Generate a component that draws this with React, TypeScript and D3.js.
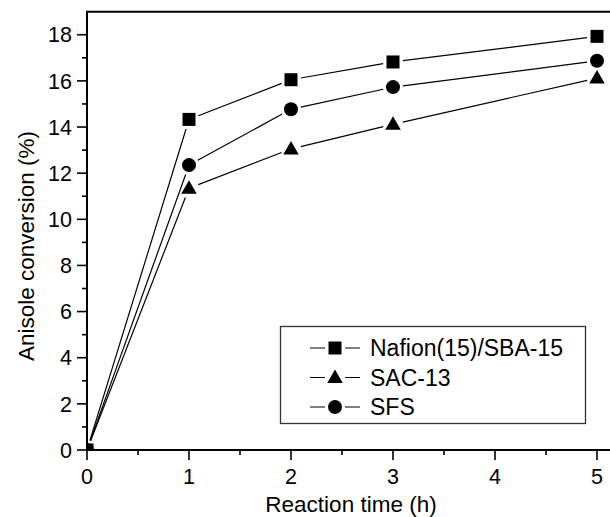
import React from "react";
import * as d3 from "d3";

const times = [0, 1, 2, 3, 5];
const seriesNames = ["Nafion(15)/SBA-15", "SAC-13", "SFS"];
const nafionValues = [0, 14.33, 16.05, 16.82, 17.93];
const sac13Values = [0, 11.35, 13.05, 14.12, 16.12];
const sfsValues = [0, 12.35, 14.77, 15.73, 16.87];
const xTickValues = [0, 1, 2, 3, 4, 5];
const yTickValues = [0, 2, 4, 6, 8, 10, 12, 14, 16, 18];

const FONT = "Liberation Sans";

type Shape = "square" | "triangle" | "circle";

function Marker({ shape, x, y }: { shape: Shape; x: number; y: number }) {
  if (shape === "square") return <rect x={x - 6.5} y={y - 6.5} width={13} height={13} fill="#000" />;
  if (shape === "circle") return <circle cx={x} cy={y} r={7} fill="#000" />;
  const sym = d3.symbol().type(d3.symbolTriangle).size(105)();
  return <path d={sym || ""} transform={`translate(${x},${y + 1})`} fill="#000" />;
}

function gapSegments(pts: [number, number][], gap: number) {
  const segs: string[] = [];
  for (let i = 0; i < pts.length - 1; i++) {
    const [x1, y1] = pts[i];
    const [x2, y2] = pts[i + 1];
    const dx = x2 - x1, dy = y2 - y1;
    const L = Math.hypot(dx, dy);
    if (L <= 2 * gap) continue;
    const ux = dx / L, uy = dy / L;
    segs.push(`M${x1 + ux * gap},${y1 + uy * gap}L${x2 - ux * gap},${y2 - uy * gap}`);
  }
  return segs.join("");
}

export default function App() {
  const W = 610, H = 517;
  const x0 = 87, y0 = 450;
  const x = d3.scaleLinear().domain([0, 5.3]).range([x0, x0 + 102 * 5.3]);
  const y = d3.scaleLinear().domain([0, 19]).range([y0, y0 - 23.07 * 19]);
  const top = y(19);
  const right = x(5.3);

  const series: { name: string; values: number[]; shape: Shape }[] = [
    { name: seriesNames[2], values: sfsValues, shape: "circle" },
    { name: seriesNames[1], values: sac13Values, shape: "triangle" },
    { name: seriesNames[0], values: nafionValues, shape: "square" },
  ];

  const xMinor = d3.range(0.5, 5.3, 1);
  const yMinor = d3.range(1, 19, 2);

  const legendItems: { name: string; shape: Shape }[] = [
    { name: seriesNames[0], shape: "square" },
    { name: seriesNames[1], shape: "triangle" },
    { name: seriesNames[2], shape: "circle" },
  ];

  const ts = { fontFamily: FONT };

  return (
    <svg width={W} height={H} style={{ position: "absolute", left: 0, top: 0, background: "#fff" }}>
      <defs>
        <clipPath id="plot">
          <rect x={x0} y={top} width={right - x0} height={y0 - top} />
        </clipPath>
      </defs>
      <g clipPath="url(#plot)">
        {series.map((s) => {
          const pts = times.map((t, i) => [x(t), y(s.values[i])] as [number, number]);
          return <path key={s.name} d={gapSegments(pts, 10)} stroke="#000" strokeWidth={1.2} fill="none" />;
        })}
        {series.map((s) => (
          <g key={s.name + "m"}>
            {times.map((t, i) => (
              <Marker key={i} shape={s.shape} x={x(t)} y={y(s.values[i])} />
            ))}
          </g>
        ))}
      </g>
      <line x1={x0} x2={right} y1={y0} y2={y0} stroke="#000" strokeWidth={2} />
      <line x1={x0} x2={x0} y1={y0} y2={top} stroke="#000" strokeWidth={2} />
      <line x1={x0 - 1} x2={right} y1={top} y2={top} stroke="#000" strokeWidth={2} />
      {xTickValues.map((t) => (
        <g key={"xt" + t}>
          <line x1={x(t)} x2={x(t)} y1={y0} y2={y0 + 10} stroke="#000" strokeWidth={1.6} />
          <text style={ts} x={x(t)} y={484} textAnchor="middle" fontSize={21.5} fill="#000">{t}</text>
        </g>
      ))}
      {xMinor.map((t) => (
        <line key={"xm" + t} x1={x(t)} x2={x(t)} y1={y0} y2={y0 + 5} stroke="#000" strokeWidth={1.6} />
      ))}
      {yTickValues.map((t) => (
        <g key={"yt" + t}>
          <line x1={x0 - 10} x2={x0} y1={y(t)} y2={y(t)} stroke="#000" strokeWidth={1.6} />
          <text style={ts} x={72} y={y(t)} dy="0.36em" textAnchor="end" fontSize={21.5} fill="#000">{t}</text>
        </g>
      ))}
      {yMinor.map((t) => (
        <line key={"ym" + t} x1={x0 - 5} x2={x0} y1={y(t)} y2={y(t)} stroke="#000" strokeWidth={1.6} />
      ))}
      <text style={ts} x={351} y={512} textAnchor="middle" fontSize={22.5} fill="#000">Reaction time (h)</text>
      <text style={ts} transform="translate(34,246) rotate(-90)" textAnchor="middle" fontSize={22.5} fill="#000">Anisole conversion (%)</text>
      <rect x={280.5} y={326.5} width={305} height={97} fill="#fff" stroke="#333" strokeWidth={1.3} />
      {legendItems.map((it, i) => {
        const cy = 348 + i * 29.5;
        return (
          <g key={"lg" + i}>
            <path d={`M310,${cy}L325,${cy}M345,${cy}L360,${cy}`} stroke="#000" strokeWidth={1.2} />
            <Marker shape={it.shape} x={335} y={cy} />
            <text style={ts} x={370} y={cy} dy="0.36em" fontSize={23} fill="#000">{it.name}</text>
          </g>
        );
      })}
    </svg>
  );
}
